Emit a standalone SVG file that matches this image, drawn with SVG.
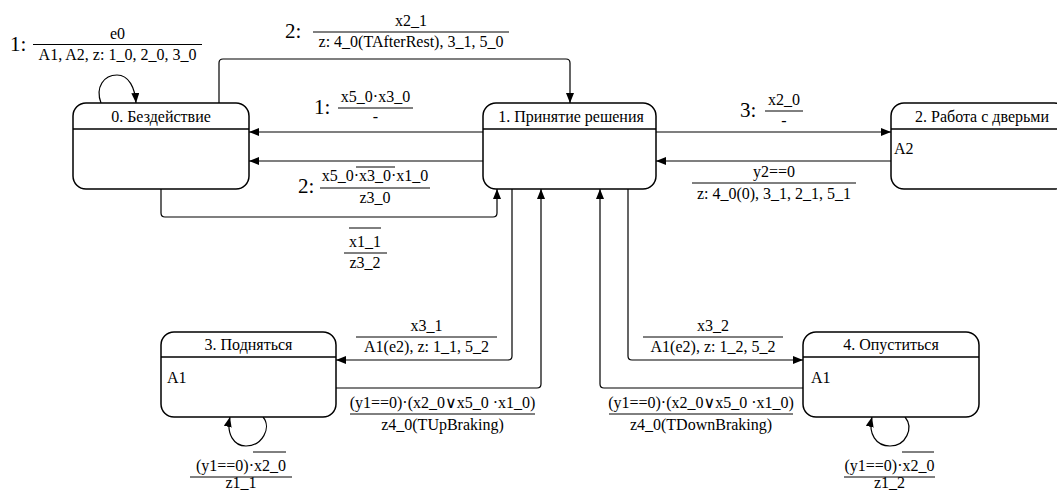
<svg xmlns="http://www.w3.org/2000/svg" width="1057" height="490" viewBox="0 0 1057 490" font-family="'Liberation Serif', 'DejaVu Serif', serif">
<style>
text{font-family:'Liberation Serif','Times New Roman','DejaVu Serif',serif;font-size:16px;fill:#000}
.big{font-size:21px}
.m{text-anchor:middle}
.box{fill:#fff;stroke:#000;stroke-width:1.5}
.hl{stroke:#000;stroke-width:1.3}
.c{fill:none;stroke:#000;stroke-width:1.2}
.fl{stroke:#000;stroke-width:1}
</style>
<defs>
<marker id="ah" markerWidth="10" markerHeight="8" refX="10" refY="4" orient="auto" markerUnits="userSpaceOnUse">
<path d="M0,0 L10,4 L0,8 z" fill="#000"/>
</marker>
</defs>
<rect width="1057" height="490" fill="#fff"/>
<g id="connectors">
<path class="c" d="M101,103 C95,87 104,75 117,75 C129,75 135,88 136,103" marker-end="url(#ah)"/>
<path class="c" d="M219,103 V63 Q219,59 223,59 H566 Q570,59 570,63 V103" marker-end="url(#ah)"/>
<path class="c" d="M483,132 H249" marker-end="url(#ah)"/>
<path class="c" d="M483,161 H249" marker-end="url(#ah)"/>
<path class="c" d="M161,189 V213 Q161,217 165,217 H493 Q497,217 497,213 V189" marker-end="url(#ah)"/>
<path class="c" d="M656,132 H891" marker-end="url(#ah)"/>
<path class="c" d="M891,161 H656" marker-end="url(#ah)"/>
<path class="c" d="M512,189 V356 Q512,360 508,360 H336" marker-end="url(#ah)"/>
<path class="c" d="M336,388 H537 Q541,388 541,384 V189" marker-end="url(#ah)"/>
<path class="c" d="M803,388 H604 Q600,388 600,384 V189" marker-end="url(#ah)"/>
<path class="c" d="M628,189 V356 Q628,360 632,360 H803" marker-end="url(#ah)"/>
<path class="c" d="M263,417 C272,428 262,446 246,446 C234,446 226,434 230,417" marker-end="url(#ah)"/>
<path class="c" d="M905,417 C914,428 906,446 890,446 C876,446 868,434 872,417" marker-end="url(#ah)"/>
</g>
<g id="node0">
<rect class="box" x="73" y="103" width="176" height="86" rx="13"/>
<line class="hl" x1="73" y1="129" x2="249" y2="129"/>
<text class="m" x="161" y="122">0. Бездействие</text>
</g>
<g id="node1">
<rect class="box" x="483" y="103" width="173" height="86" rx="13"/>
<line class="hl" x1="483" y1="129" x2="656" y2="129"/>
<text class="m" x="571" y="122">1. Принятие решения</text>
</g>
<g id="node2">
<rect class="box" x="891" y="103" width="176" height="86" rx="13"/>
<line class="hl" x1="891" y1="129" x2="1067" y2="129"/>
<text class="m" x="982" y="122">2. Работа с дверьми</text>
<text x="894" y="154">A2</text>
</g>
<g id="node3">
<rect class="box" x="161" y="332" width="175" height="85" rx="13"/>
<line class="hl" x1="161" y1="357" x2="336" y2="357"/>
<text class="m" x="248.5" y="350">3. Подняться</text>
<text x="167" y="383">A1</text>
</g>
<g id="node4">
<rect class="box" x="803" y="332" width="176" height="85" rx="13"/>
<line class="hl" x1="803" y1="357" x2="979" y2="357"/>
<text class="m" x="891" y="350">4. Опуститься</text>
<text x="811" y="383">A1</text>
</g>
<g id="labels">
<text class="big" x="10" y="51">1:</text>
<text class="m" x="117.5" y="39">e0</text>
<line class="fl" x1="33" y1="44.5" x2="202" y2="44.5"/>
<text class="m" x="117.5" y="60">A1, A2, z: 1_0, 2_0, 3_0</text>

<text class="big" x="285" y="38">2:</text>
<text class="m" x="411" y="26">x2_1</text>
<line class="fl" x1="313" y1="32" x2="509" y2="32"/>
<text class="m" x="411" y="47">z: 4_0(TAfterRest), 3_1, 5_0</text>

<text class="big" x="314" y="114">1:</text>
<text class="m" x="375.5" y="102">x5_0·x3_0</text>
<line class="fl" x1="338" y1="108" x2="413" y2="108"/>
<text class="m" x="375.5" y="122">-</text>

<text class="big" x="298" y="193">2:</text>
<text class="m" x="375" y="181">x5_0·x3_0·x1_0</text>
<line class="fl" x1="356" y1="167" x2="395" y2="167"/>
<line class="fl" x1="320" y1="188" x2="430" y2="188"/>
<text class="m" x="375" y="203">z3_0</text>

<line class="fl" x1="349" y1="228" x2="381" y2="228"/>
<text class="m" x="365" y="247">x1_1</text>
<line class="fl" x1="344" y1="253" x2="387" y2="253"/>
<text class="m" x="365" y="268">z3_2</text>

<text class="big" x="740" y="117">3:</text>
<text class="m" x="784" y="105">x2_0</text>
<line class="fl" x1="765" y1="111" x2="803" y2="111"/>
<text class="m" x="784" y="126">-</text>

<text class="m" x="774" y="177">y2==0</text>
<line class="fl" x1="692" y1="183" x2="856" y2="183"/>
<text class="m" x="774" y="199">z: 4_0(0), 3_1, 2_1, 5_1</text>

<text class="m" x="426.5" y="331">x3_1</text>
<line class="fl" x1="356" y1="337" x2="497" y2="337"/>
<text class="m" x="426.5" y="352">A1(e2), z: 1_1, 5_2</text>

<text class="m" x="442.5" y="408">(y1==0)·(x2_0∨x5_0 ·x1_0)</text>
<line class="fl" x1="350" y1="414" x2="535" y2="414"/>
<text class="m" x="442.5" y="430">z4_0(TUpBraking)</text>

<line class="fl" x1="253" y1="452" x2="286" y2="452"/>
<text class="m" x="241" y="471">(y1==0)·x2_0</text>
<line class="fl" x1="190" y1="477" x2="292" y2="477"/>
<text class="m" x="241" y="488">z1_1</text>

<text class="m" x="713" y="331">x3_2</text>
<line class="fl" x1="643" y1="337" x2="783" y2="337"/>
<text class="m" x="713" y="352">A1(e2), z: 1_2, 5_2</text>

<text class="m" x="701" y="408">(y1==0)·(x2_0∨x5_0 ·x1_0)</text>
<line class="fl" x1="609" y1="414" x2="793" y2="414"/>
<text class="m" x="701" y="430">z4_0(TDownBraking)</text>

<line class="fl" x1="902" y1="452" x2="934" y2="452"/>
<text class="m" x="889.5" y="471">(y1==0)·x2_0</text>
<line class="fl" x1="844" y1="477" x2="935" y2="477"/>
<text class="m" x="889.5" y="488">z1_2</text>
</g>
</svg>
